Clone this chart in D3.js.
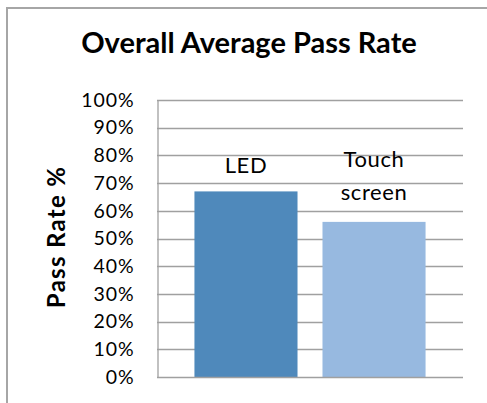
<!DOCTYPE html>
<html>
<head>
<meta charset="utf-8">
<script src="https://cdn.jsdelivr.net/npm/d3@7"></script>
<style>
  body { margin: 0; background: #fff; }
  svg { display: block; }
</style>
</head>
<body>
<div id="chart"></div>
<script>
(function() {

    var w = 487;
    var h = 403;

    // data
    var categories = [""];
    var seriesNames = ["LED", "Touch screen"];
    var seriesValues = [67, 56];
    var seriesColors = ["#4f89bb", "#97b9e0"];
    var yTicks = [0, 10, 20, 30, 40, 50, 60, 70, 80, 90, 100];

    var chartTitle = "Overall Average Pass Rate";
    var yTitle = "Pass Rate %";

    var plot = { left: 157, top: 100, right: 463, bottom: 377 };
    var font = "Lato, 'Open Sans', sans-serif";

    var svg = d3.select("#chart")
        .append("svg")
        .attr("width", w)
        .attr("height", h);

    // outer chart border (runs off the right and bottom edges)
    svg.append("rect")
        .attr("x", 7)
        .attr("y", 8)
        .attr("width", w + 20)
        .attr("height", h + 20)
        .attr("fill", "#fff")
        .attr("stroke", "#a6a6a6")
        .attr("stroke-width", 2);

    var y = d3.scaleLinear()
        .domain([0, 100])
        .range([plot.bottom, plot.top]);

    var x0 = d3.scaleBand()
        .domain(categories)
        .range([plot.left, plot.right])
        .paddingInner(0)
        .paddingOuter(0.162);

    var x1 = d3.scaleBand()
        .domain(seriesNames)
        .range([0, x0.bandwidth()])
        .paddingInner(0.195)
        .paddingOuter(0);

    // gridlines
    svg.append("g")
        .selectAll("line")
        .data(yTicks.slice(1))
        .enter()
        .append("line")
        .attr("x1", plot.left)
        .attr("x2", plot.right)
        .attr("y1", function(d) { return Math.round(y(d)) + 0.5; })
        .attr("y2", function(d) { return Math.round(y(d)) + 0.5; })
        .attr("stroke", "#a0a0a0")
        .attr("stroke-width", 1.3);

    // y axis
    var yAxis = d3.axisLeft(y)
        .tickValues(yTicks)
        .tickSize(0)
        .tickPadding(23)
        .tickFormat(function(d) { return d + "%"; });

    var gy = svg.append("g")
        .attr("transform", "translate(" + (plot.left + 0.5) + ",0)")
        .call(yAxis);
    gy.select(".domain").attr("stroke", "#a0a0a0").attr("stroke-width", 1.3);
    gy.selectAll("text")
        .attr("font-family", font)
        .attr("font-size", 19.5)
        .attr("letter-spacing", 0.9)
        .attr("fill", "#000");

    // bars
    var data = seriesNames.map(function(name, i) {
        return { cat: categories[0], name: name, value: seriesValues[i], color: seriesColors[i] };
    });

    svg.append("g")
        .selectAll("rect")
        .data(data)
        .enter()
        .append("rect")
        .attr("x", function(d) { return x0(d.cat) + x1(d.name); })
        .attr("y", function(d) { return y(d.value); })
        .attr("width", x1.bandwidth())
        .attr("height", function(d) { return y(0) - y(d.value); })
        .attr("fill", function(d) { return d.color; });

    // x axis line
    svg.append("line")
        .attr("x1", plot.left)
        .attr("x2", plot.right)
        .attr("y1", Math.round(y(0)) + 0.5)
        .attr("y2", Math.round(y(0)) + 0.5)
        .attr("stroke", "#a0a0a0")
        .attr("stroke-width", 1.3);

    // data labels (series names above bars, wrapped)
    var lineH = 33;
    var labels = svg.append("g")
        .selectAll("text")
        .data(data)
        .enter()
        .append("text")
        .attr("text-anchor", "middle")
        .attr("font-family", font)
        .attr("font-size", 22)
        .attr("letter-spacing", 0.6)
        .attr("fill", "#000")
        .attr("x", function(d) { return x0(d.cat) + x1(d.name) + x1.bandwidth() / 2; })
        .attr("y", function(d) {
            var lines = d.name.split(" ").length;
            return y(d.value) - 18 - (lines - 1) * (lineH + 4);
        });

    labels.each(function(d) {
        var t = d3.select(this);
        var words = d.name.split(" ");
        var cx = t.attr("x");
        words.forEach(function(wd, i) {
            t.append("tspan")
                .attr("x", cx)
                .attr("dy", i === 0 ? 0 : lineH)
                .text(wd);
        });
    });

    // chart title
    svg.append("text")
        .attr("x", 249)
        .attr("y", 53)
        .attr("text-anchor", "middle")
        .attr("font-family", font)
        .attr("font-weight", "bold")
        .attr("font-size", 29)
        .attr("fill", "#000")
        .text(chartTitle);

    // y axis title
    svg.append("text")
        .attr("transform", "translate(65,237) rotate(-90)")
        .attr("text-anchor", "middle")
        .attr("font-family", font)
        .attr("font-weight", "bold")
        .attr("font-size", 24)
        .attr("letter-spacing", 1.3)
        .attr("fill", "#000")
        .text(yTitle);

})();
</script>
</body>
</html>
